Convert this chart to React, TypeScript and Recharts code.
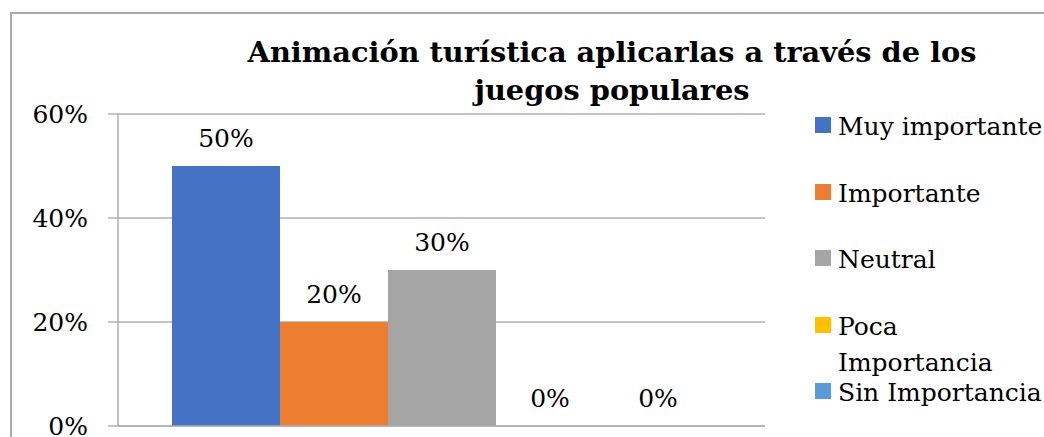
import { BarChart, Bar, XAxis, YAxis, CartesianGrid, LabelList } from "recharts";
import { FC } from "react";

const categories = ["Animación turística"];
const seriesNames = [
  "Muy importante",
  "Importante",
  "Neutral",
  "Poca Importancia",
  "Sin Importancia",
];
const seriesValues = [0.5, 0.2, 0.3, 0, 0];
const seriesColors = ["#4472C4", "#ED7D31", "#A5A5A5", "#FFC000", "#5B9BD5"];
const yTicks = [0, 0.2, 0.4, 0.6];
const titleLines = [
  "Animación turística aplicarlas a través de los",
  "juegos populares",
];

// only serif face in the sandbox
const FONT = "DejaVu Serif";

const data = categories.map((name) => {
  const row: Record<string, string | number> = { name };
  seriesNames.forEach((s, i) => {
    row[s] = seriesValues[i];
  });
  return row;
});

const pct = (v: number) => `${Math.round(v * 100)}%`;

const ChartLegend: FC = () => (
  <div style={{ position: "absolute", left: 815, top: 0 }}>
    {seriesNames.map((s, i) => (
      <div
        key={s}
        style={{
          position: "absolute",
          top: 109 + i * 66.5,
          left: 0,
          display: "flex",
          alignItems: "flex-start",
          width: 235,
        }}
      >
        <span
          style={{
            width: 16,
            height: 16,
            marginTop: 8,
            background: seriesColors[i],
            flex: "none",
          }}
        />
        <span
          style={{
            marginLeft: 7,
            fontFamily: FONT,
            fontSize: 25,
            lineHeight: "36.5px",
            color: "#000",
          }}
        >
          {s}
        </span>
      </div>
    ))}
  </div>
);

const TopLabel = (props: any) => {
  const { x, y, width, value } = props;
  return (
    <text
      x={x + width / 2}
      y={y - 19}
      textAnchor="middle"
      fontSize={25}
      fontFamily={FONT}
      fill="#000"
    >
      {pct(value)}
    </text>
  );
};

const App: FC = () => {
  return (
    <div
      style={{
        position: "absolute",
        left: 0,
        top: 0,
        width: 1044,
        height: 437,
        overflow: "hidden",
        background: "#fff",
      }}
    >
      <div
        style={{
          position: "absolute",
          left: 10,
          top: 12,
          width: 1100,
          height: 500,
          border: "2px solid #ababab",
        }}
      />
      <div
        style={{
          position: "absolute",
          left: 112,
          top: 0,
          width: 1000,
          textAlign: "center",
          fontFamily: FONT,
          fontWeight: "bold",
          fontSize: 28.8,
          lineHeight: "38px",
          paddingTop: 33,
          whiteSpace: "nowrap",
        }}
      >
        {titleLines.map((t) => (
          <div key={t}>{t}</div>
        ))}
      </div>
      <div style={{ position: "absolute", left: 0, top: 0 }}>
        <BarChart
          width={1044}
          height={437}
          data={data}
          margin={{ top: 114, right: 279, left: 0, bottom: 0 }}
          barGap={0}
          barCategoryGap={54}
        >
          <CartesianGrid vertical={false} stroke="#b0b0b0" strokeWidth={1.5} />
          <XAxis
            dataKey="name"
            tick={false}
            tickLine={false}
            height={11}
            axisLine={{ stroke: "#b0b0b0", strokeWidth: 1.5 }}
          />
          <YAxis
            width={118}
            domain={[0, 0.6]}
            ticks={yTicks}
            interval={0}
            tickFormatter={pct}
            tickSize={10}
            tickMargin={20}
            axisLine={{ stroke: "#b0b0b0", strokeWidth: 1.5 }}
            tickLine={{ stroke: "#b0b0b0", strokeWidth: 1.5 }}
            tick={{ fill: "#000", fontSize: 25, fontFamily: FONT }}
          />
          {seriesNames.map((s, i) => (
            <Bar
              key={s}
              dataKey={s}
              fill={seriesColors[i]}
              minPointSize={0.01}
              isAnimationActive={false}
            >
              <LabelList dataKey={s} content={TopLabel} />
            </Bar>
          ))}
        </BarChart>
      </div>
      <ChartLegend />
    </div>
  );
};

export default App;
